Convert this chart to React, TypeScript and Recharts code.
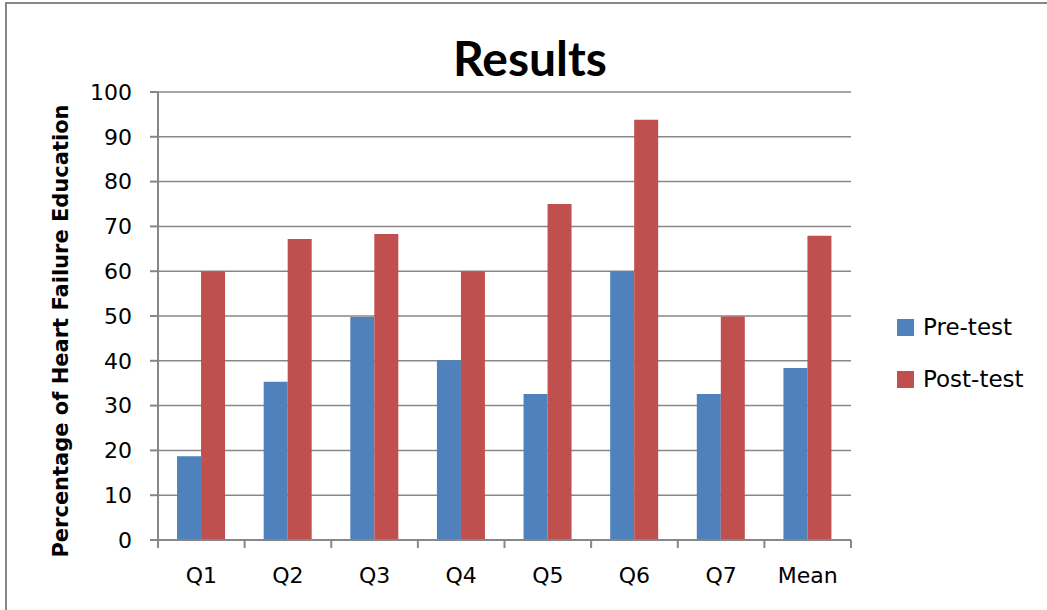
import { BarChart, Bar, XAxis, YAxis, CartesianGrid } from 'recharts'

const categories = ['Q1', 'Q2', 'Q3', 'Q4', 'Q5', 'Q6', 'Q7', 'Mean']
const preTest = [18.7, 35.3, 49.8, 40.1, 32.6, 60, 32.6, 38.4]
const postTest = [60, 67.2, 68.3, 60, 75, 93.8, 49.9, 67.9]
const yTicks = [0, 10, 20, 30, 40, 50, 60, 70, 80, 90, 100]

const seriesInfo = [
  { key: 'pre', name: 'Pre-test', color: '#4F81BD' },
  { key: 'post', name: 'Post-test', color: '#C0504D' }
]

const data = categories.map((c, i) => ({ name: c, pre: preTest[i], post: postTest[i] }))

const W = 1047
const H = 610
const PLOT_LEFT = 158
const PLOT_RIGHT = 851
const PLOT_TOP = 92
const PLOT_BOTTOM = 540
const GRAY = '#878787'
const TICK_FONT = '"DejaVu Sans", sans-serif'

function CategoryTick(props: any) {
  const { x, y, payload, index, width } = props
  const bw = width / categories.length
  const axisY = y - 27
  return (
    <g>
      <line x1={x - bw / 2} x2={x - bw / 2} y1={axisY} y2={axisY + 8} stroke={GRAY} strokeWidth={2} />
      {index === categories.length - 1 && (
        <line x1={x + bw / 2} x2={x + bw / 2} y1={axisY} y2={axisY + 8} stroke={GRAY} strokeWidth={2} />
      )}
      <text x={x} y={y} dy="0.71em" textAnchor="middle" fontSize={22} fontFamily={TICK_FONT} fill="#000">
        {payload.value}
      </text>
    </g>
  )
}

function LegendBox() {
  return (
    <div style={{ position: 'absolute', left: 897, top: 301 }}>
      {seriesInfo.map((s) => (
        <div key={s.key} style={{ display: 'flex', alignItems: 'center', height: 52 }}>
          <span style={{ width: 17, height: 17, background: s.color, display: 'inline-block', marginRight: 9 }} />
          <span style={{ fontFamily: TICK_FONT, fontSize: 23, color: '#000' }}>{s.name}</span>
        </div>
      ))}
    </div>
  )
}

export default function App() {
  return (
    <div style={{ position: 'absolute', left: 0, top: 0, width: W, height: H, background: '#fff', overflow: 'hidden' }}>
      <div style={{ position: 'absolute', left: 5, top: 2, width: W, height: H, borderLeft: `2px solid ${GRAY}`, borderTop: `2px solid ${GRAY}` }} />
      <div
        style={{
          position: 'absolute', left: 330, top: 30, width: 400, textAlign: 'center',
          fontFamily: 'Lato, sans-serif', fontWeight: 700, fontSize: 48, color: '#000', lineHeight: '56px'
        }}
      >
        Results
      </div>
      <div style={{ position: 'absolute', left: 61, top: 331, width: 0, height: 0 }}>
        <div
          style={{
            position: 'absolute', left: -300, top: -14, width: 600, textAlign: 'center', transform: 'rotate(-90deg)',
            fontFamily: '"DejaVu Sans", sans-serif', fontWeight: 700, fontSize: 21, color: '#000', lineHeight: '28px',
            whiteSpace: 'nowrap'
          }}
        >
          Percentage of Heart Failure Education
        </div>
      </div>
      <div style={{ position: 'absolute', left: 0, top: 0 }}>
        <BarChart
          width={W}
          height={H}
          data={data}
          margin={{ top: PLOT_TOP, right: W - PLOT_RIGHT, bottom: 0, left: 0 }}
          barCategoryGap="22%"
          barGap={0}
        >
          <CartesianGrid horizontal vertical={false} stroke={GRAY} strokeWidth={1.5} />
          <XAxis
            dataKey="name"
            tick={<CategoryTick />}
            tickLine={false}
            tickSize={8}
            tickMargin={19}
            axisLine={{ stroke: GRAY, strokeWidth: 2 }}
            interval={0}
            height={H - PLOT_BOTTOM}
          />
          <YAxis
            width={PLOT_LEFT}
            domain={[0, 100]}
            ticks={yTicks}
            interval={0}
            tickSize={8}
            tickMargin={18}
            tickLine={{ stroke: GRAY, strokeWidth: 2 }}
            axisLine={{ stroke: GRAY, strokeWidth: 2 }}
            tick={{ fontSize: 22, fontFamily: TICK_FONT, fill: '#000' }}
          />
          {seriesInfo.map((s) => (
            <Bar key={s.key} dataKey={s.key} name={s.name} fill={s.color} isAnimationActive={false} />
          ))}
        </BarChart>
      </div>
      <LegendBox />
    </div>
  )
}
